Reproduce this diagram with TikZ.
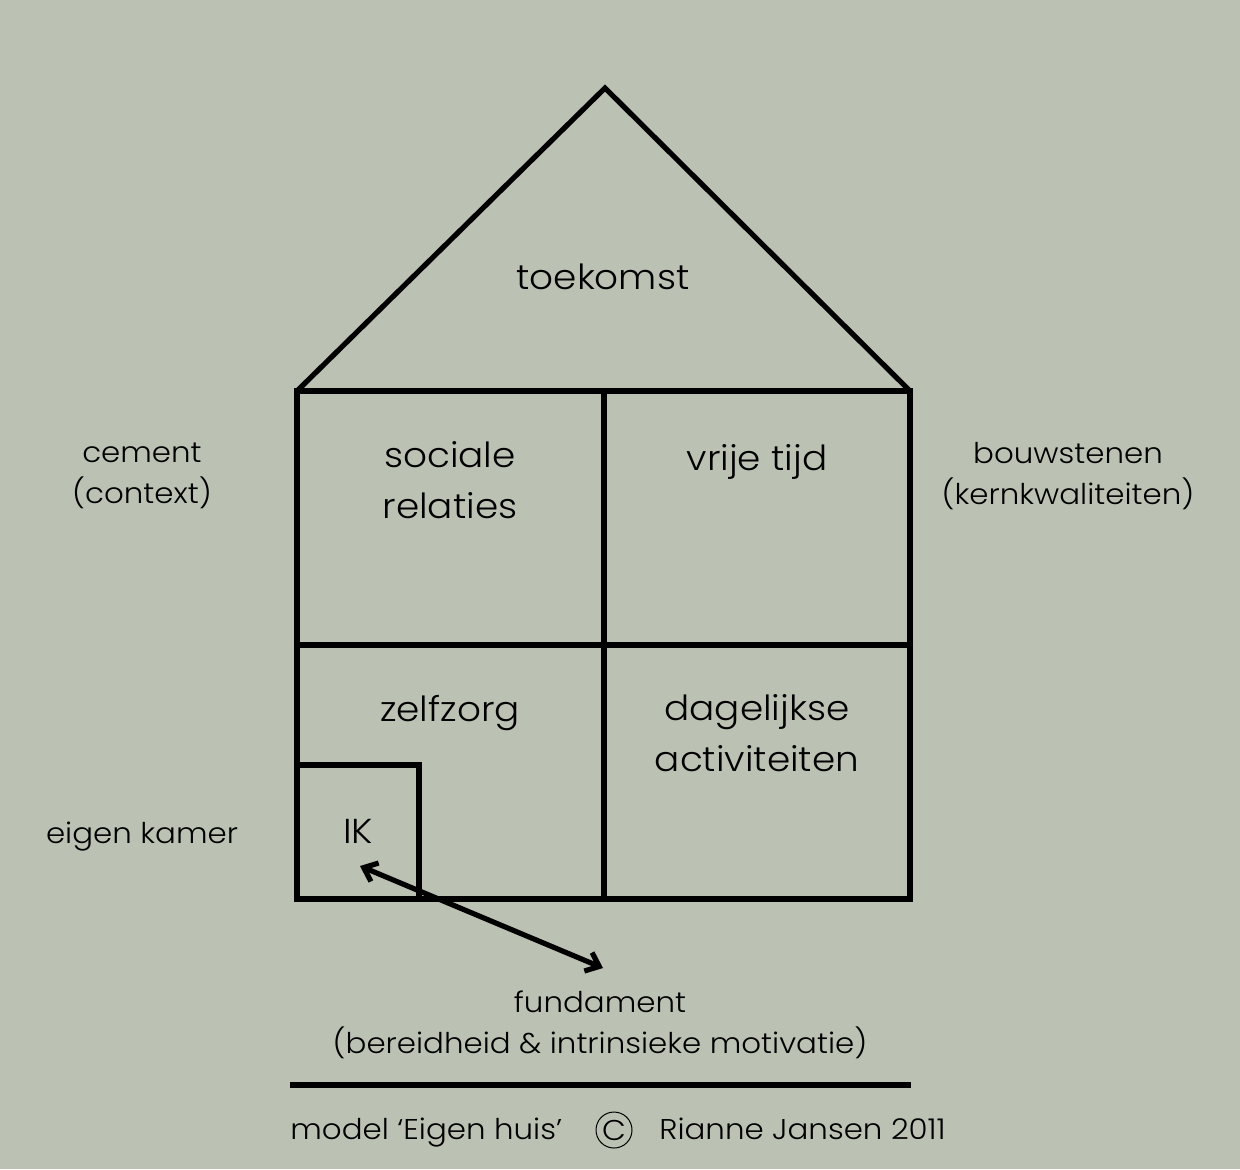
\documentclass[tikz,border=0pt]{standalone}
\usepackage{fontspec}
\IfFontExistsTF{Poppins Light}
  {\setmainfont{Poppins Light}[FakeStretch=1.08]}
  {\setmainfont{Poppins}[FakeStretch=1.08]}
\usetikzlibrary{arrows.meta}
\definecolor{sage}{RGB}{187,194,179}

\begin{document}
\begin{tikzpicture}[x=0.5pt,y=-0.5pt,
    wall/.style={line width=2.6pt},
    big/.style={font=\fontsize{17.3}{25.5}\selectfont, align=center},
    small/.style={font=\fontsize{14.3}{20.5}\selectfont, align=center}]
\fill[sage] (0,0) rectangle (1240,1169);
\useasboundingbox (0,0) rectangle (1240,1169);
% huis
\coordinate (top) at (605,88);
\coordinate (lt) at (297,391);
\coordinate (rt) at (910,391);
\coordinate (lb) at (297,899);
\coordinate (rb) at (910,899);
\draw[wall, line join=miter] (lt) -- (top) -- (rt);
\draw[wall] (lt) rectangle (rb);
\draw[wall] (604,391) -- (604,899);
\draw[wall] (297,645) -- (910,645);
\draw[wall] (297,765) -| (419,899);
% kamers
\node[big] (toekomst) at (603,277) {toekomst};
\node[big] (sociaal) at (450,480) {sociale\\relaties};
\node[big] (vrij) at (757,462) {vrije tijd};
\node[big] (zorg) at (450,713) {zelfzorg};
\node[big] (dag) at (757,733) {dagelijkse\\activiteiten};
\node[big] (ik) at (358,831) {IK};
% buiten
\node[small] (cement) at (142,476) {cement\\(context)};
\node[small] (stenen) at (1068,476) {bouwstenen\\(kernkwaliteiten)};
\node[small] (kamer) at (142,837) {eigen kamer};
\node[small] (fundament) at (600,1025) {fundament\\(bereidheid \& intrinsieke motivatie)};
\coordinate (pijl1) at (360,866);
\coordinate (pijl2) at (603,968);
\draw[line width=2.6pt, {Straight Barb[length=6pt,width=10pt]}-{Straight Barb[length=6pt,width=10pt]}] (pijl1) -- (pijl2);
% onderschrift
\draw[wall] (290,1085) -- (911,1085);
\node[small, anchor=west, inner sep=0pt] (model) at (290,1133) {model ‘Eigen huis’};
\node[circle, draw, line width=0.5pt, minimum size=18pt, inner sep=0pt, small] (copy) at (614,1130) {C};
\node[small, anchor=west, inner sep=0pt] (naam) at (659,1129) {Rianne Jansen 2011};
\end{tikzpicture}
\end{document}
